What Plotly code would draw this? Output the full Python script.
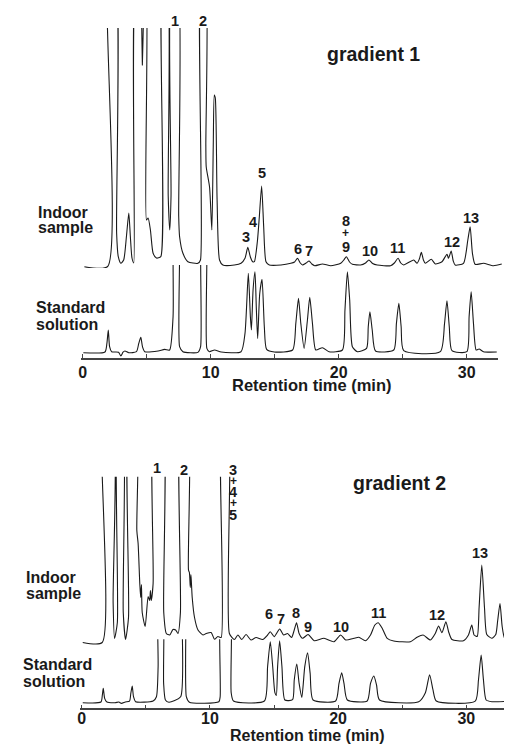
import plotly.graph_objects as go

# ---------------- data (retention time in min, detector signal in arbitrary units) ----------------
# Values of 300 / 250 / 150 / 120 mark off-scale (clipped) peaks.

# gradient 1 - indoor sample
G1_INDOOR_TIME = [0.13, 1.95, 2.02, 2.50, 2.65, 2.78, 2.98, 3.2, 3.42, 3.60, 3.72, 3.85, 3.99,
                  4.22, 4.62, 4.66, 4.70, 4.90, 4.98, 5.11, 5.29, 5.50, 5.76, 6.10, 6.26, 6.56,
                  6.68, 6.80, 6.90, 7.00, 7.38, 7.50, 7.57, 7.83, 8.22, 9.00, 9.20, 9.28, 9.56,
                  9.62, 9.65, 9.91, 10.09, 10.20, 10.28, 10.36, 10.50, 10.69, 10.95, 11.85, 12.37,
                  12.68, 12.90, 13.10, 13.28, 13.41, 13.65, 13.80, 13.98, 14.14, 14.32, 14.58,
                  15.49, 16.26, 16.55, 16.78, 17.00, 17.17, 17.45, 17.69, 17.90, 18.13, 18.73,
                  19.38, 20.16, 20.40, 20.60, 20.85, 21.07, 21.71, 22.10, 22.36, 22.65, 23.01,
                  24.05, 24.35, 24.64, 24.85, 25.08, 25.86, 26.12, 26.30, 26.46, 26.62, 26.77,
                  27.24, 27.55, 28.07, 28.46, 28.58, 28.79, 28.95, 29.10, 29.75, 30.09, 30.27,
                  30.45, 30.66, 31.31, 32.09, 32.74]
G1_INDOOR_SIGNAL = [-0.7, -0.5, 300, 300, 32.7, 9.3, 2.7, 6, 30, 53, 30, 8, 3,
                    300, 300, 201, 300, 300, 46, 48, 36, 12.7, 8, 9.3, 300, 300,
                    70, 36, 70, 300, 300, 50, 29.3, 12.7, 4.3, 2.7, 6, 300, 300,
                    120, 99.3, 79, 36, 120, 171, 168, 66, 6, 1, 1, 2.7,
                    7.7, 18.7, 9, 4.3, 4.3, 25, 49.3, 80, 39.3, 4.3, 1,
                    1, 2.7, 4, 7.7, 3, 1, 3, 5, 2, 0.3, 2,
                    0.3, 2.7, 6, 9.3, 4, 1.7, 1, 3, 6, 2.5, 1,
                    0.3, 3, 7.7, 3, 1, 6, 2.7, 7, 13.7, 6, 2.7,
                    6.7, 2, 4.3, 11.7, 7.7, 15, 5, 1, 2.7, 26, 39.3,
                    12.7, 1.7, 2.7, 0.3, 2]

# gradient 1 - standard solution
G1_STD_TIME = [0.05, 1.74, 1.89, 2.00, 2.10, 2.26, 2.80, 2.98, 3.15, 3.30, 3.60, 4.20, 4.38, 4.54,
               4.67, 4.85, 5.89, 6.40, 6.79, 7.06, 7.20, 7.47, 7.57, 7.83, 9.00, 9.21, 9.33, 9.60,
               9.70, 9.90, 10.30, 10.82, 12.37, 12.68, 12.94, 13.10, 13.18, 13.31, 13.46, 13.57,
               13.67, 13.83, 14.01, 14.19, 14.37, 14.97, 16.40, 16.65, 16.86, 17.04, 17.30, 17.56,
               17.74, 17.95, 18.21, 18.73, 19.25, 20.29, 20.49, 20.68, 20.86, 21.07, 21.46, 22.18,
               22.31, 22.44, 22.62, 22.88, 24.30, 24.51, 24.70, 24.88, 25.08, 27.94, 28.27, 28.46,
               28.64, 28.85, 30.01, 30.19, 30.35, 30.53, 30.74, 30.97, 31.31, 32.35]
G1_STD_SIGNAL = [0, 0.7, 9.3, 22.7, 6, 1, 0.5, -3.3, 0.5, 1.7, 0, 1, 9.3, 15.3,
                 6, 1, 1.7, 3.3, 2.7, 36, 150, 150, 6, 1, 0.3, 6, 150, 150,
                 4.3, 1, 2.7, 0.7, 1, 19.3, 79.3, 36, 22.7, 62.7, 81, 42.7,
                 14.3, 59, 73.3, 26, 3.3, 0.7, 2.7, 29.3, 54.3, 29.3, 4.3, 33,
                 55.3, 29.3, 2.7, 5, 1, 2.7, 42.7, 81, 52.7, 6, 1, 4.3,
                 26, 41, 22.7, 1.7, 2.7, 29.3, 49.3, 26, 2, 1, 29.3, 52,
                 26, 2, 1, 36, 61, 29.3, 2.7, 3.7, 1, 0.7]

# gradient 2 - indoor sample
G2_INDOOR_TIME = [0.08, 1.60, 1.66, 2.38, 2.45, 2.56, 2.78, 2.85, 3.17, 3.24, 3.42, 3.65, 3.73,
                  4.25, 4.30, 4.40, 4.53, 4.60, 4.66, 4.72, 4.95, 5.18, 5.30, 5.36, 5.42, 5.57,
                  5.68, 6.27, 6.40, 6.60, 6.86, 7.12, 7.33, 7.51, 7.70, 7.77, 8.26, 8.33, 8.40,
                  8.47, 8.52, 8.62, 8.80, 9.07, 9.46, 9.71, 10.10, 10.36, 10.62, 10.88, 10.96,
                  11.40, 11.52, 11.91, 12.18, 12.49, 12.82, 13.21, 13.60, 14.12, 14.50, 14.71,
                  15.02, 15.44, 15.75, 16.06, 16.37, 16.58, 16.76, 16.96, 17.23, 17.66, 18.13,
                  18.90, 19.68, 20.20, 20.59, 21.24, 21.62, 22.14, 22.53, 22.87, 23.13, 23.44,
                  23.83, 24.34, 25.64, 26.16, 26.63, 27.20, 27.58, 27.84, 28.10, 28.41, 28.62,
                  28.88, 29.78, 30.17, 30.43, 30.61, 30.85, 31.00, 31.21, 31.42, 31.60, 31.99,
                  32.30, 32.45, 32.63, 32.80, 33.00, 33.54]
G2_INDOOR_SIGNAL = [0, 0, 250, 250, 40, 4, 20, 250, 250, 30, 3, 25, 250,
                    250, 112, 99, 59, 45, 58, 30, 16, 46, 42, 52, 42, 59,
                    250, 250, 30, 9, 7.5, 13, 12.5, 9, 30, 250, 250, 72.5, 70,
                    55, 68, 45, 25, 12.5, 7.5, 9, 10, 3.2, 6, 5, 250,
                    250, 9, 3, 7.5, 3, 8, 2.5, 5, 3, 7.5, 10.8,
                    5.8, 13.5, 7.5, 9, 5, 12.5, 19.8, 9, 4.2, 8, 1.8,
                    4.2, 0.8, 7.5, 2.5, 4.2, 5.2, 1.8, 7.5, 17.5, 19.8, 14.2,
                    4.2, 1.5, 0.8, 5.2, 7.5, 2.5, 9, 16.5, 9.8, 20.8, 10.8,
                    3, 1.8, 7.5, 17.5, 7.5, 6, 35, 77.5, 35, 8, 4.2,
                    8, 22, 39, 16, 4, 0.8]

# gradient 2 - standard solution
G2_STD_TIME = [0.08, 1.50, 1.61, 1.68, 1.79, 1.94, 2.60, 2.90, 3.10, 3.40, 3.73, 3.83, 3.94, 4.04,
               4.20, 5.57, 5.83, 5.96, 6.01, 6.29, 6.39, 6.53, 6.80, 7.72, 7.85, 8.03, 8.16, 8.40,
               10.70, 10.80, 10.93, 11.52, 11.66, 11.84, 14.25, 14.50, 14.71, 14.90, 15.07, 15.18,
               15.28, 15.44, 15.62, 15.85, 16.45, 16.58, 16.78, 16.96, 17.17, 17.40, 17.62, 17.82,
               18.05, 19.81, 20.07, 20.28, 20.46, 20.72, 22.27, 22.53, 22.79, 23.00, 23.23, 26.29,
               26.81, 27.14, 27.40, 27.66, 30.70, 30.95, 31.16, 31.34, 31.55, 32.00, 33.54]
G2_STD_SIGNAL = [0, 0.7, 7.7, 14.3, 4.3, 1, 0, 0.7, -0.7, 0.7, 1.5, 9.3, 16.7, 6,
                 1, 1.7, 6, 36, 120, 120, 19.3, 2.7, 0.5, 6, 120, 120, 6, 0.5,
                 1, 6, 120, 120, 10, 1.7, 1.7, 36, 61, 36, 10, 7.3,
                 36, 62, 36, 2.7, 3, 22.7, 38.7, 19.3, 5.3, 36, 50, 29.3,
                 2.7, 1.7, 19.3, 30, 19.3, 2.7, 1.7, 19.3, 26.7, 17.7, 2.7, 1,
                 10, 28, 13, 1.7, 1.5, 22.7, 47.7, 22.7, 2.7, 1, 1.7]

TICK_VALUES = [0, 5, 10, 15, 20, 25, 30]
TICK_LABELS = ["0", "", "10", "", "20", "", "30"]

G1_PEAK_NAMES = ["1", "2", "3", "4", "5", "6", "7", "8", "+", "9", "10", "11", "12", "13"]
G1_PEAK_TIMES = [7.24, 9.39, 12.76, 13.28, 13.98, 16.79, 17.69, 20.54, 20.54, 20.54, 22.44, 24.57, 28.89, 30.35]
G2_PEAK_NAMES = ["1", "2", "3", "+", "4", "+", "5", "6", "7", "8", "9", "10", "11", "12", "13"]
G2_PEAK_TIMES = [5.91, 7.98, 11.83, 11.83, 11.83, 11.83, 11.83, 14.63, 15.54, 16.71, 17.66, 20.2, 23.13, 27.72, 31.08]

# ---------------- layout helpers (pixel geometry of the page) ----------------
# The page body has an 8 px margin, so the figure is placed at (8, 8) on the page.
OFF = 8
W, H = 512 - OFF, 745 - OFF
FONT = "Liberation Sans, Arial, sans-serif"
INK = "#1a1a1a"


def px(x):
    return (x - OFF) / W


def py(y):
    return 1 - (y - OFF) / H


G1_LABEL_Y = [21, 21, 237, 222, 173, 249, 251, 220.5, 232.5, 246.5, 251, 248, 242, 218]
G2_LABEL_Y = [468, 470, 470, 481, 492.5, 503, 515, 614, 619, 613, 627, 627, 613, 615, 553]

fig = go.Figure()
line = dict(color=INK, width=1.1, shape="spline", smoothing=0.6)
fig.add_trace(go.Scatter(x=G1_INDOOR_TIME, y=G1_INDOOR_SIGNAL, mode="lines", line=line,
                         xaxis="x", yaxis="y", showlegend=False, hoverinfo="skip"))
fig.add_trace(go.Scatter(x=G1_STD_TIME, y=G1_STD_SIGNAL, mode="lines", line=line,
                         xaxis="x2", yaxis="y2", showlegend=False, hoverinfo="skip"))
fig.add_trace(go.Scatter(x=G2_INDOOR_TIME, y=G2_INDOOR_SIGNAL, mode="lines", line=line,
                         xaxis="x3", yaxis="y3", showlegend=False, hoverinfo="skip"))
fig.add_trace(go.Scatter(x=G2_STD_TIME, y=G2_STD_SIGNAL, mode="lines", line=line,
                         xaxis="x4", yaxis="y4", showlegend=False, hoverinfo="skip"))

hidden = dict(visible=False, showgrid=False, zeroline=False, fixedrange=True)
time_axis = dict(showline=True, linecolor="#444", linewidth=1.5, ticks="inside", ticklen=4,
                 tickwidth=1.3, tickcolor="#444", tickvals=TICK_VALUES, ticktext=TICK_LABELS,
                 tickfont=dict(family=FONT, size=16, color=INK, weight="bold"),
                 showgrid=False, zeroline=False, fixedrange=True)

s1 = 12.85  # px per min, top panel
s2 = 12.87  # px per min, bottom panel
fig.update_layout(
    width=W, height=H, margin=dict(l=0, r=0, t=0, b=0), autosize=False,
    paper_bgcolor="white", plot_bgcolor="rgba(0,0,0,0)",
    xaxis=dict(hidden, domain=[px(79), px(503)], range=[(79 - 81) / s1, (503 - 81) / s1], anchor="y"),
    yaxis=dict(hidden, domain=[py(268), py(28)], range=[-2, 238], anchor="x"),
    xaxis2=dict(time_axis, domain=[px(79), px(498)], range=[(79 - 81) / s1, (498 - 81) / s1],
                anchor="y2", ticklabelstandoff=-1),
    yaxis2=dict(hidden, domain=[py(358), py(265)], range=[-5.3, 87.7], anchor="x2"),
    xaxis3=dict(hidden, domain=[px(78), px(512)], range=[(78 - 80) / s2, (512 - 80) / s2], anchor="y3"),
    yaxis3=dict(hidden, domain=[py(645), py(476.7)], range=[-2.5, 165.8], anchor="x3"),
    xaxis4=dict(time_axis, domain=[px(78), px(512)], range=[(78 - 80) / s2, (512 - 80) / s2],
                anchor="y4", ticklabelstandoff=-5),
    yaxis4=dict(hidden, domain=[py(708.3), py(639.3)], range=[-5.6, 63.4], anchor="x4"),
)

ann = []


def text(x, y, s, size, xref="paper", xanchor="center"):
    ann.append(dict(x=x, y=py(y), xref=xref, yref="paper", text=s, showarrow=False,
                    xanchor=xanchor, yanchor="middle",
                    font=dict(family=FONT, size=size, color=INK, weight="bold")))


for name, t, y in zip(G1_PEAK_NAMES, G1_PEAK_TIMES, G1_LABEL_Y):
    text(t, y, name, 12 if name == "+" else 14.5, xref="x")
for name, t, y in zip(G2_PEAK_NAMES, G2_PEAK_TIMES, G2_LABEL_Y):
    text(t, y, name, 12 if name == "+" else 14.5, xref="x3")

text(px(373), 54, "gradient 1", 19.5)
text(px(399), 483, "gradient 2", 19.5)
text(px(34), 212, "Indoor", 16, xanchor="left")
text(px(34), 228, "sample", 16, xanchor="left")
text(px(32), 308, "Standard", 16, xanchor="left")
text(px(32), 324, "solution", 16, xanchor="left")
text(px(22), 577, "Indoor", 16, xanchor="left")
text(px(22), 593, "sample", 16, xanchor="left")
text(px(19), 664, "Standard", 16, xanchor="left")
text(px(19), 681, "solution", 16, xanchor="left")
text(px(311), 385, "Retention time (min)", 16.5)
text(px(307), 735, "Retention time (min)", 16)

fig.update_layout(annotations=ann)
fig.write_html("out.html")
